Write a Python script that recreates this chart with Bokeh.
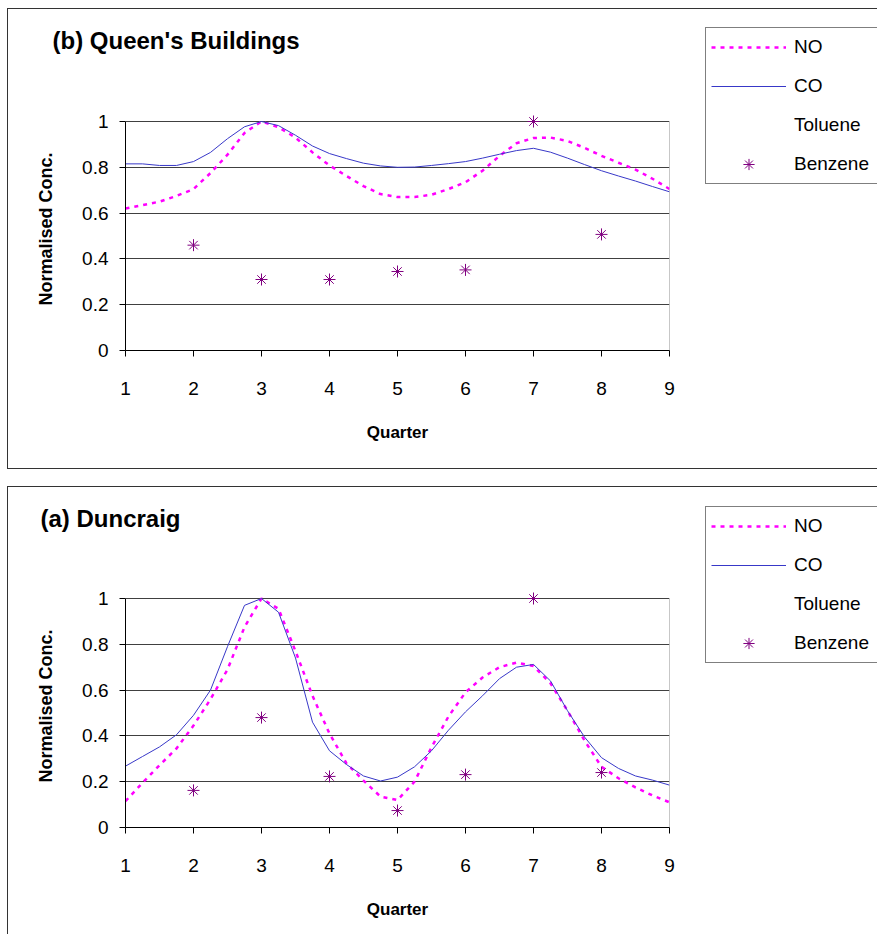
from bokeh.plotting import figure
from bokeh.models import Legend, LegendItem, Label, FixedTicker, Range1d
from bokeh.layouts import column, row
from bokeh.embed import file_html
from bokeh.resources import INLINE

# ---------------- data ----------------
quarter_ticks = [1, 2, 3, 4, 5, 6, 7, 8, 9]
y_ticks = [0, 0.2, 0.4, 0.6, 0.8, 1.0]
y_tick_labels = ["0", "0.2", "0.4", "0.6", "0.8", "1"]

x_fine = [1.0, 1.25, 1.5, 1.75, 2.0, 2.25, 2.5, 2.75, 3.0, 3.25, 3.5, 3.75,
          4.0, 4.25, 4.5, 4.75, 5.0, 5.25, 5.5, 5.75, 6.0, 6.25, 6.5, 6.75,
          7.0, 7.25, 7.5, 7.75, 8.0, 8.25, 8.5, 8.75, 9.0]

# (b) Queen's Buildings
qb_no = [0.620, 0.635, 0.650, 0.675, 0.705, 0.775, 0.855, 0.950, 1.000, 0.975,
         0.930, 0.865, 0.808, 0.762, 0.718, 0.683, 0.670, 0.670, 0.680, 0.705,
         0.735, 0.785, 0.850, 0.905, 0.928, 0.930, 0.915, 0.885, 0.850, 0.820,
         0.790, 0.750, 0.705]
qb_co = [0.815, 0.815, 0.808, 0.808, 0.825, 0.865, 0.925, 0.977, 1.000, 0.982,
         0.940, 0.893, 0.860, 0.838, 0.818, 0.806, 0.800, 0.801, 0.808, 0.816,
         0.825, 0.840, 0.857, 0.873, 0.883, 0.866, 0.840, 0.812, 0.785, 0.762,
         0.740, 0.716, 0.693]
benz_x = [2, 3, 4, 5, 6, 7, 8]
qb_benzene = [0.46, 0.31, 0.31, 0.345, 0.352, 1.0, 0.507]

# (a) Duncraig
dc_no = [0.115, 0.195, 0.272, 0.345, 0.445, 0.560, 0.690, 0.875, 1.000, 0.955,
         0.770, 0.575, 0.410, 0.280, 0.205, 0.135, 0.120, 0.200, 0.350, 0.485,
         0.590, 0.655, 0.700, 0.720, 0.705, 0.630, 0.510, 0.380, 0.265, 0.215,
         0.175, 0.140, 0.110]
dc_co = [0.268, 0.310, 0.352, 0.405, 0.490, 0.600, 0.790, 0.970, 1.000, 0.940,
         0.740, 0.460, 0.335, 0.275, 0.225, 0.203, 0.220, 0.265, 0.335, 0.425,
         0.505, 0.575, 0.650, 0.700, 0.712, 0.640, 0.510, 0.395, 0.305, 0.258,
         0.225, 0.207, 0.185]
dc_benzene = [0.162, 0.48, 0.223, 0.074, 0.231, 1.0, 0.24]

series_names = ["NO", "CO", "Toluene", "Benzene"]
toluene_x = []
toluene_y = []

FONT = "Liberation Sans"
BORDER = "1px solid #333333"
Y_TOP = 1.0 + 14 / 229.0   # headroom so that markers at 1.0 are not cut

NO_STYLE = dict(line_color="#FF00FF", line_width=2.5, line_dash="4 5")
CO_STYLE = dict(line_color="#3838C8", line_width=1)
BZ_STYLE = dict(marker="asterisk", size=12, line_color="#800080", line_width=1)


def blank_fig(width, height, sides, x_range):
    f = figure(width=width, height=height, x_range=x_range, y_range=Range1d(0, 1),
               output_backend="svg", toolbar_location=None,
               x_axis_location=None, y_axis_location=None,
               min_border_left=0, min_border_right=0, min_border_top=0, min_border_bottom=0,
               styles={f"border-{s}": BORDER for s in sides})
    f.outline_line_color = None
    f.xgrid.grid_line_color = None
    f.ygrid.grid_line_color = None
    f.background_fill_color = "white"
    f.border_fill_color = "white"
    return f


def title_fig(text, height, tx, ty):
    f = blank_fig(697, height, ["left", "top"], Range1d(0, 1))
    f.add_layout(Label(x=tx, y=ty, x_units="screen", y_units="screen", text=text,
                       text_font=FONT, text_font_size="24px", text_font_style="bold",
                       text_baseline="middle", text_color="black"))
    return f


def legend_fig(no, co, benz, height, sides, vy):
    # carries only the legend; its view range lies left of the data,
    # so the series themselves stay out of sight here
    f = blank_fig(173, height, sides, Range1d(-2, -1))
    r_no = f.line(x_fine, no, **NO_STYLE)
    r_co = f.line(x_fine, co, **CO_STYLE)
    r_tol = f.line(toluene_x, toluene_y, line_color=None)
    r_bz = f.scatter(benz_x, benz, **BZ_STYLE)
    legend = Legend(items=[LegendItem(label=n, renderers=[r])
                           for n, r in zip(series_names, [r_no, r_co, r_tol, r_bz])],
                    location=(1, vy))
    legend.border_line_color = "black"
    legend.border_line_width = 1
    legend.background_fill_color = "white"
    legend.background_fill_alpha = 1
    legend.label_text_font = FONT
    legend.label_text_font_size = "19px"
    legend.label_text_color = "black"
    legend.glyph_width = 75
    legend.glyph_height = 28
    legend.label_height = 28
    legend.spacing = 11
    legend.padding = 5
    legend.margin = 0
    legend.label_standoff = 8
    legend.label_width = 100
    f.add_layout(legend)
    return f


def data_fig(no, co, benz, height, bottom, sides):
    p = figure(width=697, height=height, x_range=Range1d(1, 9), y_range=Range1d(0, Y_TOP),
               output_backend="svg", toolbar_location=None,
               min_border_left=117, min_border_right=36,
               min_border_top=0, min_border_bottom=bottom,
               styles={f"border-{s}": BORDER for s in sides})
    p.background_fill_color = "white"
    p.border_fill_color = "white"
    p.outline_line_color = None

    # right edge of the plot area
    p.segment(x0=[quarter_ticks[-1]], y0=[y_ticks[0]], x1=[quarter_ticks[-1]], y1=[y_ticks[-1]],
              line_color="#909090", line_width=1)

    p.xgrid.grid_line_color = None
    p.ygrid.ticker = FixedTicker(ticks=y_ticks)
    p.ygrid.grid_line_color = "#404040"
    p.ygrid.grid_line_width = 1

    p.line(x_fine, no, **NO_STYLE)
    p.line(x_fine, co, **CO_STYLE)
    p.scatter(benz_x, benz, **BZ_STYLE)

    for ax in (p.xaxis[0], p.yaxis[0]):
        ax.axis_line_color = "black"
        ax.major_tick_line_color = "black"
        ax.major_tick_out = 6
        ax.major_tick_in = 0
        ax.minor_tick_line_color = None
        ax.major_label_text_font = FONT
        ax.major_label_text_font_size = "19px"
        ax.major_label_text_color = "black"
        ax.axis_label_text_font = FONT
        ax.axis_label_text_font_style = "bold"
        ax.axis_label_text_color = "black"

    p.xaxis.ticker = FixedTicker(ticks=quarter_ticks)
    p.xaxis.major_label_standoff = 25
    p.xaxis.axis_label = "Quarter"
    p.xaxis.axis_label_text_font_size = "17px"
    p.xaxis.axis_label_standoff = 25

    p.yaxis.ticker = FixedTicker(ticks=y_ticks)
    p.yaxis.bounds = (y_ticks[0], y_ticks[-1])
    p.yaxis.major_label_overrides = {t: l for t, l in zip(y_ticks, y_tick_labels)}
    p.yaxis.major_label_standoff = 11
    p.yaxis.axis_label = "Normalised Conc."
    p.yaxis.axis_label_text_font_size = "18px"
    p.yaxis.axis_label_standoff = 23
    return p


# top panel: (b) Queen's Buildings
t1 = title_fig("(b) Queen's Buildings", 99, 44, 68)
p1 = data_fig(qb_no, qb_co, qb_benzene, 362, 119, ["left", "bottom"])
l1 = legend_fig(qb_no, qb_co, qb_benzene, 461, ["top", "bottom"], 286)
panel1 = row(column(column(t1), column(p1), spacing=0), l1, spacing=0, margin=(8, 0, 0, 7))

# bottom panel: (a) Duncraig
t2 = title_fig("(a) Duncraig", 98, 32, 67)
p2 = data_fig(dc_no, dc_co, dc_benzene, 350, 107, ["left"])
l2 = legend_fig(dc_no, dc_co, dc_benzene, 448, ["top"], 272)
panel2 = row(column(column(t2), column(p2), spacing=0), l2, spacing=0, margin=(17, 0, 0, 7))

layout = column(panel1, panel2, spacing=0)
open("out.html", "w").write(file_html(layout, INLINE))
